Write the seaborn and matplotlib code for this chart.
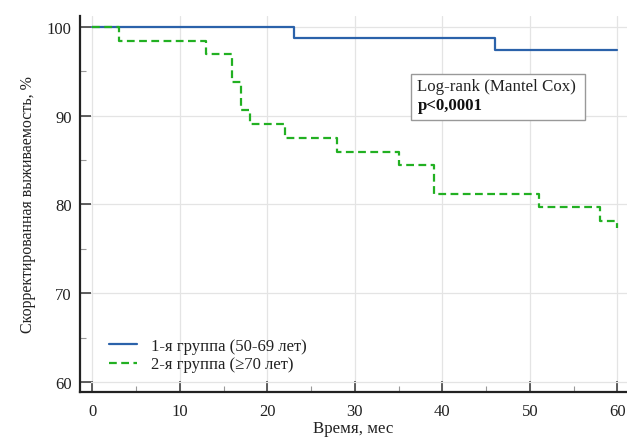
import matplotlib
matplotlib.use("Agg")
import matplotlib.pyplot as plt
from matplotlib.patches import Rectangle
from matplotlib.ticker import MultipleLocator
import seaborn as sns
import pandas as pd

# Data (Kaplan-Meier steps)
group1_label = "1-я группа (50-69 лет)"
group2_label = "2-я группа (\u226570 лет)"
group1_time = [0, 23, 46, 60]
group1_surv = [100, 98.7, 97.4, 97.4]
group2_time = [0, 3, 13, 16, 17, 18, 22, 28, 35, 39, 51, 58, 60]
group2_surv = [100, 98.4, 96.9, 93.8, 90.6, 89.1, 87.5, 85.9, 84.4, 81.2, 79.7, 78.1, 77.4]
x_ticks = [0, 10, 20, 30, 40, 50, 60]
y_ticks = [60, 70, 80, 90, 100]

df = pd.concat([
    pd.DataFrame({"t": group1_time, "s": group1_surv, "g": group1_label}),
    pd.DataFrame({"t": group2_time, "s": group2_surv, "g": group2_label}),
], ignore_index=True)

sns.set_style("ticks")
plt.rcParams["font.family"] = ["Liberation Serif", "DejaVu Serif"]

fig = plt.figure(figsize=(6.27, 4.39), dpi=100)
ax = fig.add_axes([80/627, 1-393/439, 547/627, 376/439])

palette = {group1_label: "#2b62aa", group2_label: "#22b022"}
sns.lineplot(data=df[df.g == group1_label], x="t", y="s", ax=ax, color=palette[group1_label],
             drawstyle="steps-post", estimator=None, sort=False, linewidth=1.6, label=group1_label)
sns.lineplot(data=df[df.g == group2_label], x="t", y="s", ax=ax, color=palette[group2_label],
             drawstyle="steps-post", estimator=None, sort=False, linewidth=1.6,
             linestyle=(0, (3.5, 2)), label=group2_label)

ax.set_xlim(-1.41, 61.1)
ax.set_ylim(58.9, 101.2)
ax.set_xticks(x_ticks)
ax.set_yticks(y_ticks)
ax.xaxis.set_minor_locator(MultipleLocator(5))
ax.yaxis.set_minor_locator(MultipleLocator(5))
ax.grid(True, which="major", color="#e4e4e4", linewidth=0.9)
ax.set_axisbelow(True)
ax.tick_params(which="major", direction="in", length=8, width=1.2, color="#444444",
               labelsize=12, pad=6, labelcolor="#222222")
ax.tick_params(axis="x", which="major", pad=8)
ax.tick_params(which="minor", direction="in", length=4, width=0.8, color="#999999")
for s in ["top", "right"]:
    ax.spines[s].set_visible(False)
for s in ["left", "bottom"]:
    ax.spines[s].set_linewidth(1.6)
    ax.spines[s].set_color("#222222")

ax.set_xlabel("Время, мес", fontsize=12.2, color="#222222", labelpad=1)
ax.set_ylabel("Скорректированная выживаемость, %", fontsize=11.5, color="#222222", labelpad=8)

leg = ax.legend(loc="lower left", bbox_to_anchor=(0.025, 0.012), frameon=False, fontsize=12,
                handlelength=1.7, handletextpad=0.85, labelspacing=0.15)
for t in leg.get_texts():
    t.set_color("#222222")

ax.add_patch(Rectangle((0.605, 0.723), 0.318, 0.123, transform=ax.transAxes, fill=True,
                       facecolor="white", edgecolor="#999999", linewidth=1.0, zorder=5))
ax.text(0.617, 0.814, "Log-rank (Mantel Cox)", transform=ax.transAxes, fontsize=12.2,
        va="center", ha="left", color="#222222", zorder=6)
ax.text(0.617, 0.763, "p<0,0001", transform=ax.transAxes, fontsize=12.2, fontweight="bold",
        va="center", ha="left", color="#111111", zorder=6)

fig.savefig("out.png", dpi=100)
